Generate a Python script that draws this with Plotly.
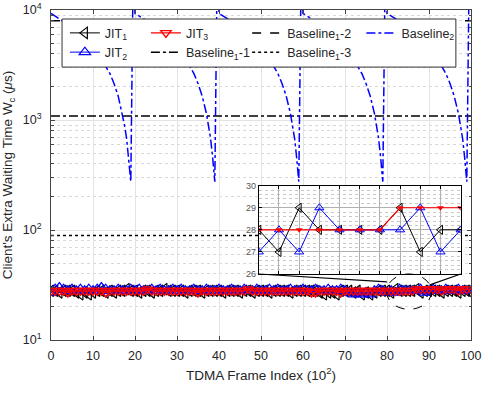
import plotly.graph_objects as go

# frame index, in units of 10^2 frames
frame_idx = list(range(101))

jit1 = [28, 28, 27, 28, 28, 28, 27, 26, 27, 26,
        27, 28, 28, 27, 28, 27, 28, 28, 29, 28,
        28, 27, 28, 28, 27, 28, 28, 29, 28, 28,
        28, 28, 27, 28, 28, 28, 27, 28, 28, 28,
        28, 27, 28, 28, 28, 27, 28, 28, 27, 28,
        28, 28, 27, 28, 28, 28, 28, 27, 28, 28,
        28, 28, 28, 28, 27, 26, 27, 27, 26, 28,
        28, 28, 27, 28, 26, 27, 26, 27, 28, 28,
        28, 27, 29, 28, 28, 28, 28, 29, 27, 28, 28,
        28, 28, 27, 28, 28, 28, 27, 28, 28, 27]
jit2 = [27, 29, 30, 29, 28, 29, 28, 29, 28, 29,
        28, 29, 30, 29, 28, 28, 29, 28, 28, 29,
        28, 29, 28, 28, 29, 28, 29, 28, 28, 29,
        28, 29, 28, 28, 29, 28, 28, 29, 28, 28,
        29, 28, 28, 29, 28, 28, 29, 28, 28, 29,
        28, 28, 29, 28, 29, 28, 28, 29, 28, 28,
        29, 28, 28, 29, 28, 28, 29, 28, 28, 29,
        28, 27, 26, 27, 26, 27, 26, 28, 29, 28,
        27, 28, 27, 29, 28, 28, 28, 28, 29, 27, 28,
        29, 28, 28, 29, 28, 28, 29, 28, 28, 28]
jit3 = [28, 28, 28, 28, 27, 28, 28, 28, 28, 28,
        28, 28, 28, 27, 28, 28, 28, 28, 28, 28,
        28, 28, 28, 29, 28, 28, 28, 28, 28, 28,
        28, 28, 28, 28, 28, 27, 28, 28, 28, 28,
        28, 28, 28, 28, 28, 28, 28, 29, 28, 28,
        28, 28, 28, 28, 28, 28, 28, 28, 28, 28,
        28, 28, 27, 27, 28, 28, 28, 28, 28, 27,
        28, 28, 28, 28, 28, 28, 28, 28, 28, 28,
        28, 28, 28, 28, 28, 28, 28, 29, 29, 29, 29,
        29, 29, 28, 29, 29, 29, 28, 29, 29, 29]

baseline1_1 = 1090
baseline1_2 = 8000
baseline1_3 = 89

bl2_x = [0, 2, 4, 6, 8, 10, 12, 14, 15, 16, 17, 17.5, 18, 18.5, 19, 19.6,
         20, 22, 24, 26, 28, 30, 32, 34, 35, 36, 37, 37.5, 38, 38.5, 39, 39.6,
         40, 42, 44, 46, 48, 50, 52, 54, 55, 56, 57, 57.5, 58, 58.5, 59, 59.6,
         60, 62, 64, 66, 68, 70, 72, 74, 75, 76, 77, 77.5, 78, 78.5, 79, 79.6,
         80, 82, 84, 86, 88, 90, 92, 94, 95, 96, 97, 97.5, 98, 98.5, 99, 99.6, 100]
bl2_y = [9300, 8350, 7400, 6450, 5500, 4550, 3600, 2650, 2150, 1650, 1150, 900, 680, 450, 275, 30000,
         9300, 8350, 7400, 6450, 5500, 4550, 3600, 2650, 2150, 1650, 1150, 900, 680, 450, 275, 30000,
         9300, 8350, 7400, 6450, 5500, 4550, 3600, 2650, 2150, 1650, 1150, 900, 680, 450, 275, 30000,
         9300, 8350, 7400, 6450, 5500, 4550, 3600, 2650, 2150, 1650, 1150, 900, 680, 450, 275, 30000,
         9300, 8350, 7400, 6450, 5500, 4550, 3600, 2650, 2150, 1650, 1150, 900, 680, 450, 275, 30000, 30000]

zoom_lo, zoom_hi = 80, 91

FONT = "Liberation Sans, Arial, sans-serif"
INK = "#262626"

fig = go.Figure()

# main traces
fig.add_trace(go.Scatter(
    x=frame_idx, y=jit1, mode="lines+markers", name="JIT<sub>1</sub>", legend="legend",
    line=dict(color="black", width=1),
    marker=dict(symbol="triangle-left-open", size=10, color="black", line=dict(width=1.2)),
))
fig.add_trace(go.Scatter(
    x=frame_idx, y=jit2, mode="lines+markers", name="JIT<sub>2</sub>", legend="legend",
    line=dict(color="blue", width=1),
    marker=dict(symbol="triangle-up-open", size=10, color="blue", line=dict(width=1.2)),
))
fig.add_trace(go.Scatter(
    x=frame_idx, y=jit3, mode="lines+markers", name="JIT<sub>3</sub>", legend="legend2",
    line=dict(color="red", width=1.2),
    marker=dict(symbol="triangle-down-open", size=9, color="red", line=dict(width=1.4)),
))
fig.add_trace(go.Scatter(
    x=[0, 100], y=[baseline1_1, baseline1_1], mode="lines", name="Baseline<sub>1</sub>-1",
    legend="legend2", line=dict(color="black", width=1.5, dash="dashdot"),
))
fig.add_trace(go.Scatter(
    x=[0, 100], y=[baseline1_2, baseline1_2], mode="lines", name="Baseline<sub>1</sub>-2",
    legend="legend3", line=dict(color="black", width=1.5, dash="dash"),
))
fig.add_trace(go.Scatter(
    x=[0, 100], y=[baseline1_3, baseline1_3], mode="lines", name="Baseline<sub>1</sub>-3",
    legend="legend3", line=dict(color="black", width=1.5, dash="dot"),
))
fig.add_trace(go.Scatter(
    x=bl2_x, y=bl2_y, mode="lines", name="Baseline<sub>2</sub>", legend="legend4",
    line=dict(color="blue", width=1.5, dash="dashdot"),
))

# inset (zoom on frames 80-90)
fig.add_trace(go.Scatter(
    x=frame_idx[zoom_lo:zoom_hi], y=jit1[zoom_lo:zoom_hi], xaxis="x2", yaxis="y2",
    mode="lines+markers", showlegend=False, line=dict(color="black", width=1),
    marker=dict(symbol="triangle-left-open", size=8, color="black"),
))
fig.add_trace(go.Scatter(
    x=frame_idx[zoom_lo:zoom_hi], y=jit2[zoom_lo:zoom_hi], xaxis="x2", yaxis="y2",
    mode="lines+markers", showlegend=False, line=dict(color="blue", width=1),
    marker=dict(symbol="triangle-up-open", size=8, color="blue"),
))
fig.add_trace(go.Scatter(
    x=frame_idx[zoom_lo:zoom_hi], y=jit3[zoom_lo:zoom_hi], xaxis="x2", yaxis="y2",
    mode="lines+markers", showlegend=False, line=dict(color="red", width=1.2),
    marker=dict(symbol="triangle-down", size=6, color="red"),
))

legend_common = dict(
    bgcolor="rgba(0,0,0,0)", borderwidth=0, yanchor="top", xanchor="left",
    font=dict(family=FONT, size=12.5, color=INK), itemwidth=30, tracegroupgap=0,
)

fig.update_layout(
    width=485,
    height=396,
    margin=dict(l=51, r=14, t=10, b=56, autoexpand=False),
    paper_bgcolor="white",
    plot_bgcolor="white",
    font=dict(family=FONT, size=12, color=INK),
    legend=dict(x=0.033, y=0.975, **legend_common),
    legend2=dict(x=0.226, y=0.975, **legend_common),
    legend3=dict(x=0.467, y=0.975, **legend_common),
    legend4=dict(x=0.739, y=0.975, **legend_common),
    xaxis=dict(
        range=[0, 100], dtick=10, tick0=0, automargin=False,
        showline=True, linecolor="#444", linewidth=1, mirror="allticks",
        ticks="inside", ticklen=4, tickcolor="#444", ticklabelstandoff=4,
        showgrid=True, gridcolor="#e3e3e3", zeroline=False,
        tickfont=dict(size=12.5),
        title=dict(text="TDMA Frame Index (10<sup>2</sup>)", font=dict(size=13.5), standoff=8),
    ),
    yaxis=dict(
        type="log", range=[1, 4], automargin=False,
        tickvals=[10, 100, 1000, 10000],
        ticktext=["10<sup>1</sup>", "10<sup>2</sup>", "10<sup>3</sup>", "10<sup>4</sup>"],
        showline=True, linecolor="#444", linewidth=1, mirror="allticks",
        ticks="inside", ticklen=4, tickcolor="#444", ticklabelstandoff=6,
        showgrid=True, gridcolor="#e3e3e3", zeroline=False,
        minor=dict(dtick="D1", ticks="inside", ticklen=2.5, tickcolor="#444",
                   showgrid=True, gridcolor="#d8d8d8", griddash="dot"),
        tickfont=dict(size=12.5),
        title=dict(text="Client's Extra Waiting Time W<sub>c</sub> (<i>μ</i>s)",
                   font=dict(size=13.5), standoff=9),
    ),
    xaxis2=dict(
        domain=[0.4947, 0.9754], anchor="y2", range=[80, 90], dtick=1, automargin=False,
        showticklabels=False, showline=True, linecolor="black", linewidth=1, mirror="allticks",
        ticks="inside", ticklen=3, tickcolor="black",
        showgrid=True, gridcolor="#b0b0b0", zeroline=False,
    ),
    yaxis2=dict(
        domain=[0.2, 0.4676], anchor="x2", range=[26, 30], dtick=1, automargin=False,
        showline=True, linecolor="black", linewidth=1, mirror="allticks",
        ticks="inside", ticklen=3, tickcolor="black",
        showgrid=True, gridcolor="#b0b0b0", zeroline=False,
        minor=dict(dtick=0.2, showgrid=True, gridcolor="#c8c8c8", griddash="dot"),
        tickfont=dict(size=9, color="#555"),
    ),
    shapes=[
        # legend box
        dict(type="rect", xref="paper", yref="paper", x0=0.0263, x1=0.964, y0=0.827, y1=0.9727,
             fillcolor="white", line=dict(color="#333", width=1), layer="above"),
        # zoom ellipse and connectors
        dict(type="circle", xref="paper", yref="paper", x0=0.799, x1=0.906, y0=0.093, y1=0.2,
             line=dict(color="black", width=1, dash="dash"), layer="above"),
        dict(type="line", xref="paper", yref="paper", x0=0.4947, y0=0.2, x1=0.8, y1=0.176,
             line=dict(color="black", width=1.2), layer="above"),
        dict(type="line", xref="paper", yref="paper", x0=0.9754, y0=0.2, x1=0.902, y1=0.167,
             line=dict(color="black", width=1.2), layer="above"),
    ],
)

fig.write_html(
    "out.html",
    config={"displayModeBar": False},
    post_script="document.body.style.margin = '0px';",
)
